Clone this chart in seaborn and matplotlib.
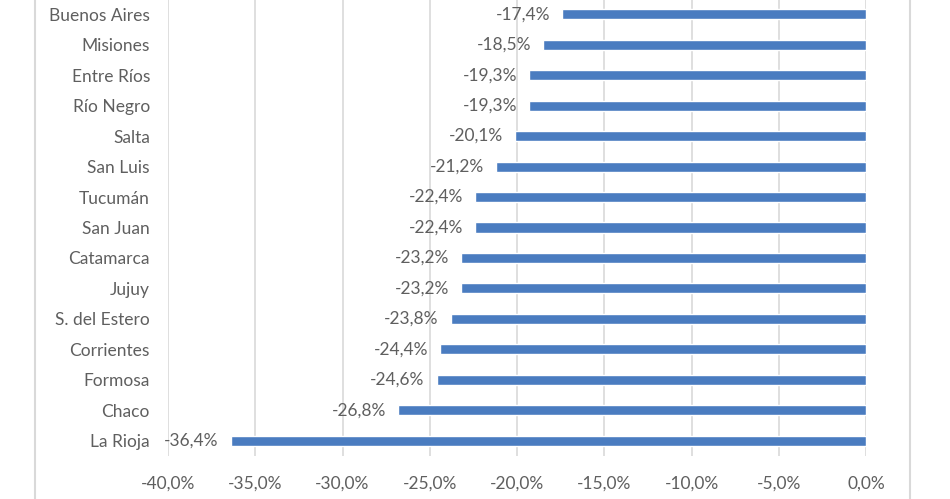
import matplotlib
matplotlib.use("Agg")
import matplotlib.pyplot as plt
import seaborn as sns
import pandas as pd
from matplotlib.lines import Line2D

provincias = ["Buenos Aires", "Misiones", "Entre Ríos", "Río Negro", "Salta", "San Luis",
              "Tucumán", "San Juan", "Catamarca", "Jujuy", "S. del Estero", "Corrientes",
              "Formosa", "Chaco", "La Rioja"]
valores = [-17.4, -18.5, -19.3, -19.3, -20.1, -21.2, -22.4, -22.4, -23.2, -23.2,
           -23.8, -24.4, -24.6, -26.8, -36.4]
ticks = [-40, -35, -30, -25, -20, -15, -10, -5, 0]

df = pd.DataFrame({"provincia": provincias, "valor": valores})

sns.set_theme(style="white")
plt.rcParams["font.family"] = ["Lato", "DejaVu Sans"]

W, H = 950, 499
fig = plt.figure(figsize=(W / 100, H / 100), dpi=100)
ax = fig.add_axes([168 / W, (H - 456) / H, (866 - 168) / W, 457 / H])

txt = "#5F5F5F"
grid = "#D9D9D9"
sns.barplot(data=df, y="provincia", x="valor", orient="h", color="#4A7CC0",
            width=0.33, saturation=1, ax=ax, zorder=3)

ax.set_xlim(-40, 0)
ax.set_xticks(ticks)
ax.set_xticklabels([f"{t:.1f}%".replace(".", ",") for t in ticks])
ax.set_xlabel("")
ax.set_ylabel("")
for s in ax.spines.values():
    s.set_visible(False)
ax.grid(axis="x", color=grid, linewidth=1.2, zorder=0)
ax.set_axisbelow(True)
ax.tick_params(axis="x", length=0, pad=14, labelsize=12.5, labelcolor=txt)
ax.tick_params(axis="y", length=0, pad=13, labelsize=12.5, labelcolor=txt)

for i, v in enumerate(valores):
    ax.annotate(f"{v:.1f}%".replace(".", ","), xy=(v, i), xytext=(-12, 0),
                textcoords="offset pixels", ha="right", va="center",
                fontsize=12.5, color=txt)

fig.add_artist(Line2D([35 / W, 35 / W], [0, 1], color=grid, linewidth=1.5,
                      transform=fig.transFigure))
fig.add_artist(Line2D([910 / W, 910 / W], [0, 1], color=grid, linewidth=1.5,
                      transform=fig.transFigure))

fig.savefig("out.png", dpi=100)
